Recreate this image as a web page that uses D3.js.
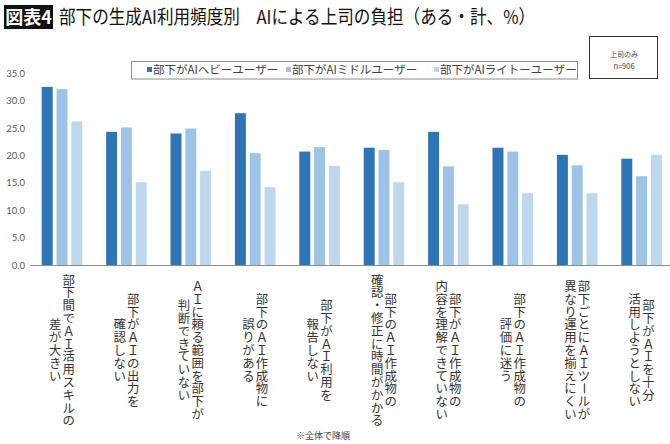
<!DOCTYPE html>
<html>
<head>
  <meta charset="utf-8">
  <title>部下の生成AI利用頻度別 AIによる上司の負担</title>
  <script src="https://cdn.jsdelivr.net/npm/d3@7"></script>
  <style>
    body { margin: 0; background: #fff; }
    svg { display: block; }
    .axis--y text { font-family: Lato, "DejaVu Sans", sans-serif; font-size: 9.5px; fill: #595959; }
    .axis--x .domain { stroke: #8c8c8c; }
    .cat { font-family: "Noto Sans CJK JP", sans-serif; font-size: 12.4px; fill: #333; }
    .jp { font-family: "Noto Sans CJK JP", sans-serif; }
  </style>
</head>
<body>
<svg width="670" height="444"></svg>
<script>

// 各項目（縦書き、右の列から）
var categories = [
  ["部下間でＡＩ活用スキルの", "差が大きい"],
  ["部下がＡＩの出力を", "確認しない"],
  ["ＡＩに頼る範囲を部下が", "判断できていない"],
  ["部下のＡＩ作成物に", "誤りがある"],
  ["部下がＡＩ利用を", "報告しない"],
  ["部下のＡＩ作成物の", "確認・修正に時間がかかる"],
  ["部下がＡＩ作成物の", "内容を理解できていない"],
  ["部下のＡＩ作成物の", "評価に迷う"],
  ["部下ごとにＡＩツールが", "異なり運用を揃えにくい"],
  ["部下がＡＩを十分", "活用しようとしない"]
];
var seriesNames = ["部下がAIヘビーユーザー", "部下がAIミドルユーザー", "部下がAIライトーユーザー"];
var heavy = [32.5, 24.3, 24.0, 27.7, 20.7, 21.4, 24.3, 21.4, 20.1, 19.4];
var middle = [32.1, 25.1, 24.9, 20.4, 21.5, 21.0, 18.0, 20.7, 18.2, 16.2];
var light = [26.2, 15.1, 17.2, 14.2, 18.1, 15.1, 11.1, 13.1, 13.1, 20.1];
var yTicks = [0, 5, 10, 15, 20, 25, 30, 35];
var colors = ["#2e75b6", "#9dc3e6", "#bdd7ee"];

var svg = d3.select("svg");
var keys = categories.map(function(d) { return d.join(""); });
var values = [heavy, middle, light];

var x0 = d3.scaleBand().domain(keys).range([29.8, 673.8]).paddingInner(0.37).paddingOuter(0.185),
    x1 = d3.scaleBand().domain(seriesNames).range([0, x0.bandwidth()]).paddingInner(0.26),
    y = d3.scaleLinear().domain([0, 35]).range([265, 73.2]);
var color = d3.scaleOrdinal().domain(seriesNames).range(colors);

// title
svg.append("rect").attr("x", 4).attr("y", 5).attr("width", 49).attr("height", 24).attr("fill", "#111");
svg.append("text").attr("class", "jp").attr("x", 28.5).attr("y", 24).attr("text-anchor", "middle")
    .attr("fill", "#fff").attr("font-size", 18).attr("font-weight", 700).text("図表4");
svg.append("text").attr("class", "jp").attr("x", 59).attr("y", 24)
    .attr("fill", "#111").attr("font-size", 19).attr("font-weight", 400)
    .attr("textLength", 476).attr("lengthAdjust", "spacingAndGlyphs")
    .text("部下の生成AI利用頻度別　AIによる上司の負担（ある・計、%）");

// y axis
svg.append("g")
    .attr("class", "axis axis--y")
    .attr("transform", "translate(25,0)")
    .call(d3.axisLeft(y).tickValues(yTicks).tickSize(0).tickPadding(0).tickFormat(d3.format(".1f")))
    .call(function(g) { g.select(".domain").remove(); });

// bars
var groups = svg.append("g").selectAll("g")
  .data(keys)
  .enter().append("g")
    .attr("transform", function(d) { return "translate(" + x0(d) + ",0)"; });

groups.selectAll("rect")
  .data(function(d, i) { return seriesNames.map(function(s, j) { return {series: s, value: values[j][i]}; }); })
  .enter().append("rect")
    .attr("x", function(d) { return x1(d.series); })
    .attr("y", function(d) { return y(d.value); })
    .attr("width", x1.bandwidth())
    .attr("height", function(d) { return y(0) - y(d.value); })
    .attr("fill", function(d) { return color(d.series); });

// x axis
svg.append("g")
    .attr("class", "axis axis--x")
    .attr("transform", "translate(0," + y(0) + ")")
    .call(d3.axisBottom(x0).tickSize(0).tickFormat(""));

// vertical category labels, one glyph per text so the stacking is exact
var step = 12.8, midY = 350;
var glyphs = [];
categories.forEach(function(cols, i) {
  cols.forEach(function(line, j) {
    var chars = Array.from(line);
    var cx = x0(keys[i]) + x0.bandwidth() / 2 + (j === 0 ? 6.8 : -6.8);
    chars.forEach(function(c, k) {
      glyphs.push({c: c, x: cx, y: midY - chars.length * step / 2 + step * (k + 0.5)});
    });
  });
});

svg.append("g").selectAll("text")
  .data(glyphs)
  .enter().append("text")
    .attr("class", "cat")
    .attr("x", function(d) { return d.x; })
    .attr("y", function(d) { return d.y; })
    .attr("text-anchor", "middle")
    .attr("dominant-baseline", "central")
    .attr("transform", function(d) { return d.c === "ー" ? "rotate(90," + d.x + "," + d.y + ")" : null; })
    .text(function(d) { return d.c; });

// legend
var legend = svg.append("g").attr("class", "jp");
legend.append("rect").attr("x", 131.5).attr("y", 61.5).attr("width", 446).attr("height", 17.5)
    .attr("fill", "#fff").attr("stroke", "#8c8c8c");
var legX = [147, 286, 434];
var item = legend.selectAll(".item")
  .data(seriesNames)
  .enter().append("g")
    .attr("class", "item")
    .attr("transform", function(d, i) { return "translate(" + legX[i] + ",70)"; });
item.append("rect").attr("x", 0).attr("y", -3).attr("width", 5).attr("height", 5)
    .attr("fill", function(d) { return color(d); });
item.append("text").attr("x", 6).attr("y", 4).attr("font-size", 11.5).attr("fill", "#404040")
    .text(function(d) { return d; });

// sample note
svg.append("rect").attr("x", 589.5).attr("y", 36.5).attr("width", 68).attr("height", 42)
    .attr("fill", "#fff").attr("stroke", "#333");
svg.append("text").attr("class", "jp").attr("x", 624).attr("y", 57).attr("text-anchor", "middle")
    .attr("font-size", 7).attr("fill", "#404040").text("上司のみ");
svg.append("text").attr("class", "jp").attr("x", 624).attr("y", 69).attr("text-anchor", "middle")
    .attr("font-size", 7.5).attr("fill", "#404040").text("n=906");

// footnote
svg.append("text").attr("class", "jp").attr("x", 323).attr("y", 439).attr("text-anchor", "middle")
    .attr("font-size", 9).attr("fill", "#404040").text("※全体で降順");

</script>
</body>
</html>
